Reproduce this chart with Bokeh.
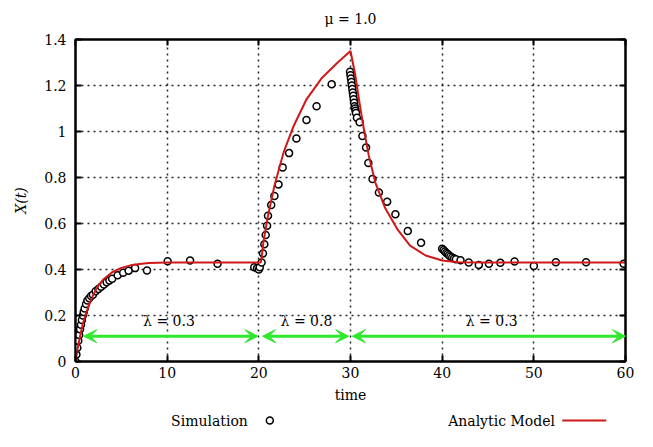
from bokeh.plotting import figure
from bokeh.layouts import column
from bokeh.models import LinearAxis, Range1d, Arrow, VeeHead, FixedTicker
from bokeh.embed import file_html
from bokeh.resources import INLINE
from bokeh.core.properties import value

# ---------------- data ----------------
sim_t = [0.0, 0.1, 0.2, 0.3, 0.4, 0.5, 0.6, 0.7, 0.8, 0.9, 1.0, 1.15, 1.3, 1.5, 1.7, 1.9,
         2.2, 2.5, 2.8, 3.1, 3.4, 3.7, 4.0, 4.6, 5.2, 5.8, 6.5, 7.8, 10.05, 12.5, 15.5,
         19.5, 19.8, 20.0, 20.1,
         20.3, 20.45, 20.6, 20.75, 20.9, 21.0, 21.35, 21.7, 22.15, 22.6, 23.3, 24.1,
         25.2, 26.3, 27.95,
         29.95, 30.0, 30.05, 30.1, 30.15, 30.2, 30.25, 30.3, 30.35, 30.4, 30.45, 30.5,
         30.55, 30.6, 30.7,
         31.0, 31.3, 31.7, 31.95, 32.4, 33.1, 34.0, 34.9, 36.25, 37.7,
         40.0, 40.15, 40.3, 40.45, 40.6, 40.75, 40.9, 41.1, 41.3, 41.5, 42.0, 42.9,
         44.0, 45.1, 46.35, 47.9, 50.0, 52.4, 55.7, 59.8]
sim_x = [0.0, 0.03, 0.06, 0.09, 0.115, 0.14, 0.16, 0.18, 0.2, 0.215, 0.23, 0.25, 0.265,
         0.275, 0.285, 0.29, 0.305, 0.315, 0.325, 0.335, 0.345, 0.352, 0.36, 0.375, 0.386,
         0.395, 0.406, 0.396, 0.436, 0.439, 0.425,
         0.41, 0.405, 0.40, 0.41,
         0.43, 0.47, 0.51, 0.55, 0.59, 0.634, 0.68, 0.72, 0.77, 0.844, 0.906, 0.97,
         1.05, 1.11, 1.205,
         1.26, 1.245, 1.23, 1.215, 1.20, 1.185, 1.17, 1.155, 1.14, 1.125, 1.11, 1.10,
         1.09, 1.08, 1.06,
         1.04, 0.98, 0.93, 0.863, 0.793, 0.735, 0.695, 0.64, 0.567, 0.516,
         0.49, 0.485, 0.478, 0.472, 0.467, 0.462, 0.457, 0.452, 0.448, 0.445, 0.44, 0.43,
         0.42, 0.425, 0.429, 0.435, 0.415, 0.432, 0.432, 0.425]

model_t = [0, 0.25, 0.5, 0.75, 1, 1.5, 2, 2.5, 3, 4, 5, 6, 7, 8, 10, 15, 20.2,
           20.3, 20.5, 21.0, 21.7, 22.7, 23.8, 25.2, 26.9, 28.6, 30.0,
           30.5, 31.0, 31.5, 32.0, 32.7, 33.75, 35.1, 36.5, 38.2, 40.0, 41.8, 45, 50, 60]
model_x = [0, 0.06, 0.11, 0.155, 0.19, 0.25, 0.295, 0.33, 0.355, 0.388, 0.407, 0.418,
           0.424, 0.428, 0.43, 0.43, 0.43,
           0.45, 0.519, 0.634, 0.764, 0.909, 1.024, 1.14, 1.234, 1.30, 1.35,
           1.25, 1.12, 1.0, 0.894, 0.779, 0.67, 0.576, 0.504, 0.461, 0.439, 0.432,
           0.43, 0.43, 0.43]

lambda_start = [0.9, 20.4, 30.2]
lambda_end = [19.9, 29.8, 60.0]
lambda_labels = ["λ = 0.3", "λ = 0.8", "λ = 0.3"]
lambda_label_t = [10.2, 25.2, 45.4]
arrow_level = 0.11
label_level = 0.175

x_ticks = [0, 10, 20, 30, 40, 50, 60]
y_ticks = [0, 0.2, 0.4, 0.6, 0.8, 1.0, 1.2, 1.4]
y_tick_labels = ["0", "0.2", "0.4", "0.6", "0.8", "1", "1.2", "1.4"]
legend_labels = ["Simulation", "Analytic Model"]
title_text = "μ = 1.0"

SERIF = "DejaVu Serif"
GREEN = "#2ee82e"
RED = "#d01818"
W = 637
TH = 28      # title strip height
LH = 26      # legend strip height
MH = 431 - TH - LH

x_range = Range1d(0, 60)


def strip(h):
    # strips share the chart's x range, so their frames line up with it
    f = figure(width=W, height=h, x_range=x_range, y_range=Range1d(0, h),
               output_backend="svg", toolbar_location=None, min_border=0,
               x_axis_type=None, y_axis_type=None)
    f.grid.visible = False
    f.outline_line_color = None
    f.background_fill_color = "white"
    f.border_fill_color = "white"
    return f


# title strip (centred over the plot frame)
tf = strip(TH)
tf.text(x=[30], y=[TH - 18], text=[title_text], text_font=value(SERIF),
        text_font_size="14px", text_align="center", text_baseline="middle",
        text_color="black")

p = figure(width=W, height=MH, x_range=x_range, y_range=Range1d(0, 1.4),
           output_backend="svg", toolbar_location=None,
           min_border_left=75, min_border_right=12, min_border_top=11,
           min_border_bottom=42)
p.outline_line_color = "black"
p.outline_line_width = 2
p.background_fill_color = "white"
p.border_fill_color = "white"

# axes
for ax in p.xaxis:
    ax.ticker = FixedTicker(ticks=x_ticks)
    ax.axis_label = "time"
    ax.axis_label_standoff = 6
    ax.major_label_standoff = 5
for ax in p.yaxis:
    ax.ticker = FixedTicker(ticks=y_ticks)
    ax.major_label_overrides = {t: l for t, l in zip(y_ticks, y_tick_labels)}
    ax.axis_label = "X(t)"
    ax.axis_label_text_font_style = "italic"
    ax.axis_label_standoff = 12
    ax.major_label_standoff = 9

for ax in p.xaxis + p.yaxis:
    ax.major_label_text_font = SERIF
    ax.major_label_text_font_size = "14px"
    ax.major_label_text_color = "black"
    ax.axis_label_text_font = SERIF
    ax.axis_label_text_font_size = "14px"
    ax.axis_label_text_color = "black"
    ax.major_tick_in = 6
    ax.major_tick_out = 0
    ax.minor_tick_in = 0
    ax.minor_tick_out = 0
    ax.axis_line_color = "black"
    ax.axis_line_width = 2
    ax.major_tick_line_width = 2
p.xaxis.axis_label_text_font_style = "normal"

top_axis = LinearAxis(ticker=FixedTicker(ticks=x_ticks), major_label_text_font_size="1px",
                      major_label_standoff=0, major_tick_in=6, major_tick_out=0,
                      minor_tick_in=0, minor_tick_out=0, axis_line_width=2,
                      major_tick_line_width=2, major_label_text_alpha=0)
right_axis = LinearAxis(ticker=FixedTicker(ticks=y_ticks), major_label_text_font_size="1px",
                        major_label_standoff=0, major_tick_in=6, major_tick_out=0,
                        minor_tick_in=0, minor_tick_out=0, axis_line_width=2,
                        major_tick_line_width=2, major_label_text_alpha=0)
p.add_layout(top_axis, "above")
p.add_layout(right_axis, "right")

# grid
p.grid.grid_line_color = "black"
p.grid.grid_line_dash = "2 4"
p.grid.grid_line_width = 1.5
p.grid.grid_line_alpha = 0.85
p.xgrid.ticker = FixedTicker(ticks=x_ticks)
p.ygrid.ticker = FixedTicker(ticks=y_ticks)

# data
sim_style = dict(marker="circle", size=7, line_color="black", line_width=1.5,
                 fill_color="white")
model_style = dict(line_color=RED, line_width=2)
p.scatter(sim_t, sim_x, **sim_style)
p.line(model_t, model_x, **model_style)

# lambda arrows
for s, e in zip(lambda_start, lambda_end):
    p.add_layout(Arrow(
        start=VeeHead(size=13, fill_color=GREEN, line_color=GREEN),
        end=VeeHead(size=13, fill_color=GREEN, line_color=GREEN),
        x_start=s, x_end=e, y_start=arrow_level, y_end=arrow_level,
        line_color=GREEN, line_width=3))
p.text(x=lambda_label_t, y=[label_level] * len(lambda_label_t), text=lambda_labels,
       text_font=value(SERIF), text_font_size="14px", text_align="center",
       text_baseline="middle", text_color="black")

# legend strip below the chart (gnuplot style: label, then key)
lg = strip(LH)
ly = LH / 2 - 2
lg.text(x=[18.8, 52.3], y=[ly, ly], text=legend_labels, text_font=value(SERIF),
        text_font_size="14px", text_align="right", text_baseline="middle",
        text_color="black")
lg.scatter([21.2], [ly], **sim_style)
lg.line([53.1, 57.9], [ly, ly], **model_style)

layout = column(tf, p, lg, spacing=0)
open("out.html", "w").write(file_html(layout, INLINE))
